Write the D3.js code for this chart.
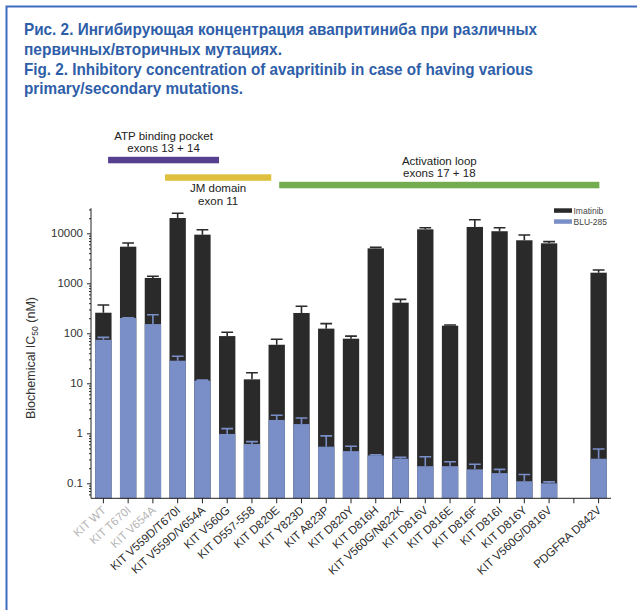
<!DOCTYPE html>
<html>
<head>
<meta charset="utf-8">
<script src="https://cdn.jsdelivr.net/npm/d3@7"></script>
<style>
  html, body { margin: 0; padding: 0; background: #fff; }
  svg { display: block; }
</style>
</head>
<body>
<svg id="chart" width="637" height="610"></svg>
<script>
// ---------- data ----------
const titleLines = [
  "Рис. 2. Ингибирующая концентрация авапритиниба при различных",
  "первичных/вторичных мутациях.",
  "Fig. 2. Inhibitory concentration of avapritinib in case of having various",
  "primary/secondary mutations."
];
const categories = ["KIT WT","KIT T670I","KIT V654A","KIT V559D/T670I","KIT V559D/V654A","KIT V560G","KIT D557-558","KIT D820E","KIT Y823D","KIT A823P","KIT D820Y","KIT D816H","KIT V560G/N822K","KIT D816V","KIT D816E","KIT D816F","KIT D816I","KIT D816Y","KIT V560G/D816V","","PDGFRA D842V"];
const grayLabels = ["KIT WT","KIT T670I","KIT V654A"];
const imatinib    = [258, 5400, 1280, 20200, 9400, 88, 12, 59, 255, 124, 78, 5000, 410, 12000, 142, 13400, 11000, 7250, 6300, null, 1630];
const imatinibErr = [368, 6400, 1380, 25100, 11800, 105, 16.3, 76, 347, 156, 88, 5250, 478, 12900, 147, 18700, 12900, 9250, 6800, null, 1845];
const blu285      = [74, 202, 153, 28.3, 11.3, 0.97, 0.61, 1.85, 1.53, 0.54, 0.44, 0.36, 0.31, 0.22, 0.22, 0.19, 0.16, 0.11, 0.10, null, 0.31];
const blu285Err   = [83, 205, 235, 34.7, 11.6, 1.24, 0.68, 2.29, 2.02, 0.89, 0.55, 0.37, 0.33, 0.34, 0.27, 0.24, 0.19, 0.15, 0.107, null, 0.485];
const yTicks = [0.1, 1, 10, 100, 1000, 10000];
const seriesNames = ["Imatinib", "BLU-285"];
const regionLabels = [["ATP binding pocket", "exons 13 + 14"], ["JM domain", "exon 11"], ["Activation loop", "exons 17 + 18"]];
const regionColors = ["#553f8f", "#dfc03e", "#74ad4f"];

// ---------- setup ----------
const svg = d3.select("#chart");
const blue = "#7a8fc7", dark = "#2a2a2a", titleBlue = "#2f5ea9";

// frame
svg.append("rect").attr("x", 6.5).attr("y", 6.5).attr("width", 640).attr("height", 620)
  .attr("fill", "none").attr("stroke", "#3e6dbf").attr("stroke-width", 2);

// title
const titleWidths = [513, 258, 509, 219];
const titleY = [35, 54.7, 74.5, 94.3];
svg.append("g").selectAll("text").data(titleLines).join("text")
  .attr("x", 24).attr("y", (d, i) => titleY[i])
  .attr("font-family", "'Liberation Sans Narrow','Arial Narrow','Liberation Sans',Arial,sans-serif")
  .attr("font-weight", "bold").attr("font-size", 16.5).attr("fill", titleBlue)
  .attr("textLength", (d, i) => titleWidths[i]).attr("lengthAdjust", "spacingAndGlyphs")
  .text(d => d);

// scales
const x = d3.scaleBand().domain(categories).range([91, 611]).paddingInner(0.34).paddingOuter(0.17);
const y = d3.scaleLog().domain([Math.pow(10, -1.3), Math.pow(10, 4.5)]).range([498.3, 208.3]);
const bottom = y.range()[0];

const font = "'Liberation Sans',Arial,sans-serif";

// bars
const data = categories.map((c, i) => ({c, im: imatinib[i], imE: imatinibErr[i], b: blu285[i], bE: blu285Err[i]}))
  .filter(d => d.im != null);
const bw = x.bandwidth();
const capW = bw * 0.72;

const g = svg.append("g");
g.selectAll("rect.im").data(data).join("rect").attr("class", "im")
  .attr("x", d => x(d.c)).attr("width", bw)
  .attr("y", d => y(d.im)).attr("height", d => bottom - y(d.im)).attr("fill", dark);
g.selectAll("path.imE").data(data).join("path").attr("class", "imE")
  .attr("d", d => {
    const cx = x(d.c) + bw / 2;
    return `M${cx},${y(d.im)}V${y(d.imE)}M${cx - capW / 2},${y(d.imE)}H${cx + capW / 2}`;
  })
  .attr("stroke", dark).attr("stroke-width", 1.6).attr("fill", "none");
g.selectAll("rect.b").data(data).join("rect").attr("class", "b")
  .attr("x", d => x(d.c)).attr("width", bw)
  .attr("y", d => y(d.b)).attr("height", d => bottom - y(d.b)).attr("fill", blue);
g.selectAll("path.bE").data(data).join("path").attr("class", "bE")
  .attr("d", d => {
    const cx = x(d.c) + bw / 2;
    return `M${cx},${y(d.b)}V${y(d.bE)}M${cx - capW / 2},${y(d.bE)}H${cx + capW / 2}`;
  })
  .attr("stroke", blue).attr("stroke-width", 1.6).attr("fill", "none");

// y axis
const minorTicks = [];
for (let e = -2; e <= 4; e++) for (let m = 2; m <= 9; m++) {
  const v = m * Math.pow(10, e);
  if (v >= y.domain()[0] && v <= y.domain()[1]) minorTicks.push(v);
}
const yAxisG = svg.append("g").attr("transform", "translate(91,0)")
  .call(d3.axisLeft(y).tickValues(yTicks).tickFormat(d3.format("~g")).tickSize(4).tickPadding(4));
yAxisG.select(".domain").attr("d", `M0,${bottom}V${y.range()[1]}`).attr("stroke", "#222");
yAxisG.selectAll(".tick line").attr("stroke", "#222");
yAxisG.selectAll(".tick text").attr("font-family", font).attr("font-size", 11.5).attr("fill", "#333");
svg.append("g").attr("transform", "translate(91,0)")
  .call(d3.axisLeft(y).tickValues(minorTicks).tickFormat("").tickSize(2))
  .call(s => s.select(".domain").remove())
  .selectAll("line").attr("stroke", "#222");

// y label
const yl = svg.append("text").attr("transform", "translate(35,358) rotate(-90)")
  .attr("text-anchor", "middle").attr("font-family", font).attr("font-size", 12.5).attr("fill", "#333");
yl.append("tspan").text("Biochemical IC");
yl.append("tspan").attr("font-size", 8.5).attr("dy", 3).text("50");
yl.append("tspan").attr("dy", -3).text(" (nM)");

// x axis
const xAxisG = svg.append("g").attr("transform", `translate(0,${bottom})`)
  .call(d3.axisBottom(x).tickSize(5).tickFormat(""));
xAxisG.select(".domain").attr("d", `M91,0H611`).attr("stroke", "#222");
xAxisG.selectAll(".tick line").attr("stroke", "#222");
svg.append("g").selectAll("text").data(categories.filter(c => c !== "")).join("text")
  .attr("transform", c => `translate(${x(c) + bw / 2 + 3.5},${bottom + 13}) rotate(-42)`)
  .attr("text-anchor", "end").attr("font-family", font).attr("font-size", 11.6)
  .attr("fill", c => grayLabels.includes(c) ? "#b5b5b5" : "#2a2a2a")
  .text(c => c);

// legend
const legColors = [dark, blue];
const leg = svg.append("g");
leg.selectAll("rect").data(seriesNames).join("rect")
  .attr("x", 554).attr("y", (d, i) => 208.3 + i * 11).attr("width", 18).attr("height", 4.5)
  .attr("fill", (d, i) => legColors[i]);
leg.selectAll("text").data(seriesNames).join("text")
  .attr("x", 573.5).attr("y", (d, i) => 214 + i * 11)
  .attr("font-family", font).attr("font-size", 8.5).attr("fill", "#444").text(d => d);

// region annotations (spans expressed in category-step units relative to band centres)
const step = x.step();
const cen = i => x(categories[i]) + bw / 2;
const spans = [[cen(0) + 0.19 * step, cen(4) + 0.67 * step], [cen(2) + 0.49 * step, cen(6) + 0.78 * step], [cen(7) + 0.1 * step, cen(20) + 0.03 * step]];
const barY = [156.8, 174.3, 181.8];
const textAbove = [true, false, true];
regionLabels.forEach((lines, i) => {
  const [x0, x1] = spans[i];
  svg.append("rect").attr("x", x0).attr("y", barY[i]).attr("width", x1 - x0).attr("height", 6.5)
    .attr("fill", regionColors[i]);
  const cx = (x0 + x1) / 2;
  const ty = textAbove[i] ? [barY[i] - 17, barY[i] - 5] : [barY[i] + 17.5, barY[i] + 30.5];
  lines.forEach((t, j) => {
    svg.append("text").attr("x", cx).attr("y", ty[j]).attr("text-anchor", "middle")
      .attr("font-family", font).attr("font-size", 11.5).attr("fill", "#222").text(t);
  });
});
</script>
</body>
</html>
